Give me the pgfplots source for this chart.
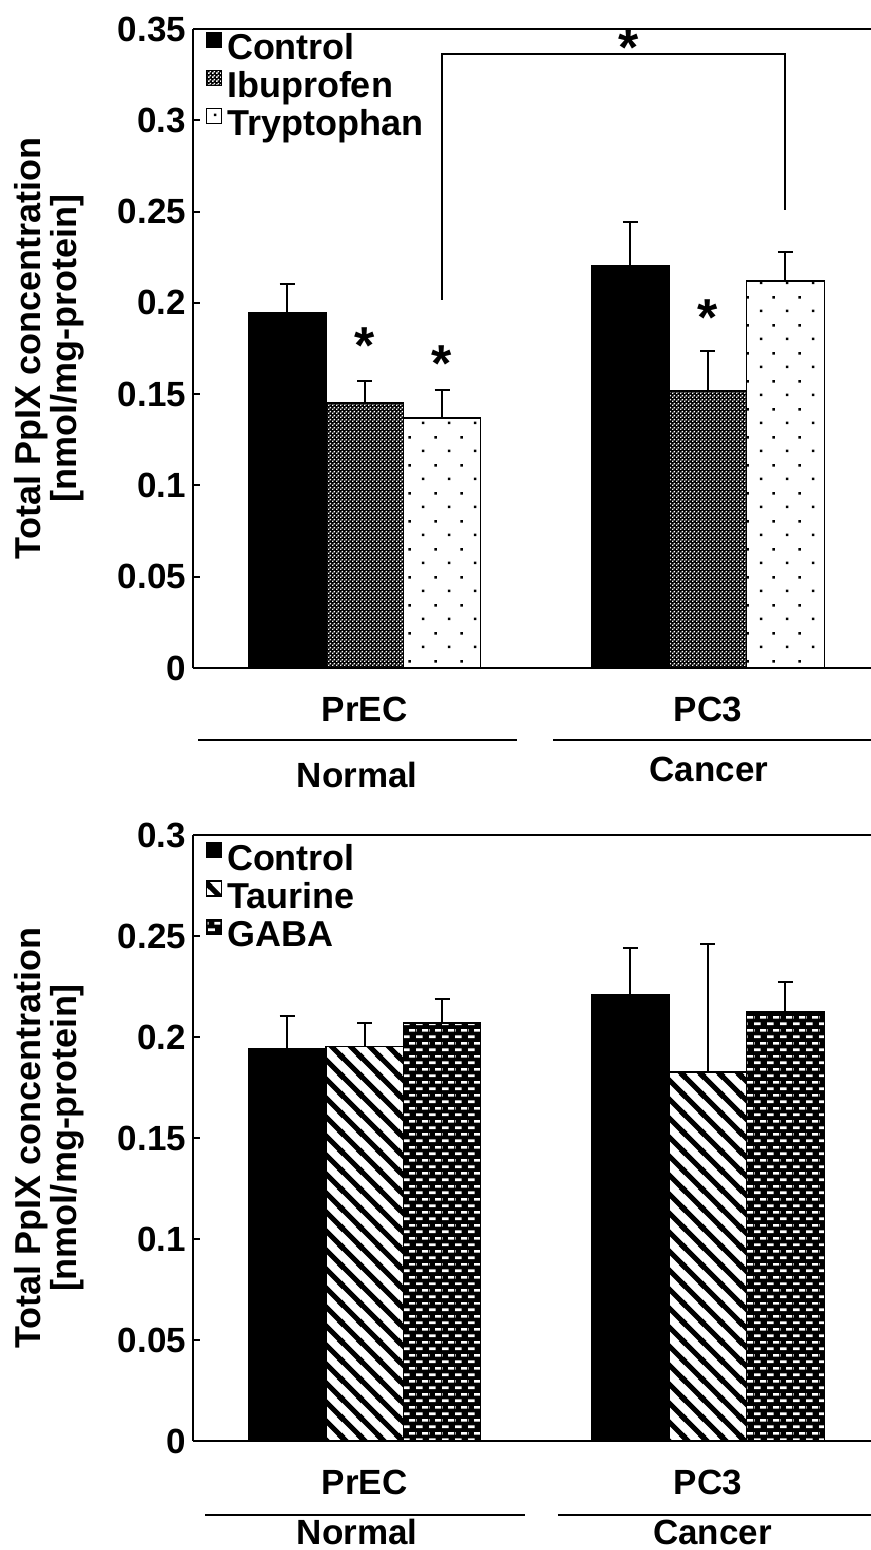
\documentclass[border=0pt]{standalone}
\usepackage{fontspec}
\setmainfont{Liberation Sans}
\usepackage{pgfplots}
\pgfplotsset{compat=1.18}
\usetikzlibrary{patterns}

% white squares (drawn over black) -> dark checker
\pgfdeclarepatternformonly{ibu}{\pgfpointorigin}{\pgfpoint{2pt}{2pt}}{\pgfpoint{2pt}{2pt}}{%
  \pgfpathrectangle{\pgfpointorigin}{\pgfpoint{0.9pt}{0.9pt}}%
  \pgfpathrectangle{\pgfpoint{1pt}{1pt}}{\pgfpoint{0.9pt}{0.9pt}}%
  \pgfusepath{fill}}
\pgfdeclarepatternformonly{trp}{\pgfpointorigin}{\pgfpoint{13pt}{14pt}}{\pgfpoint{13pt}{14pt}}{%
  \pgfpathrectangle{\pgfpoint{3pt}{3pt}}{\pgfpoint{1.3pt}{1.3pt}}%
  \pgfpathrectangle{\pgfpoint{9.5pt}{10pt}}{\pgfpoint{1.3pt}{1.3pt}}%
  \pgfusepath{fill}}
\pgfdeclarepatternformonly{taur}{\pgfpointorigin}{\pgfpoint{9.5pt}{9.5pt}}{\pgfpoint{9.5pt}{9.5pt}}{%
  \pgfsetlinewidth{2.6pt}%
  \pgfpathmoveto{\pgfpoint{-1pt}{10.5pt}}\pgfpathlineto{\pgfpoint{10.5pt}{-1pt}}%
  \pgfpathmoveto{\pgfpoint{-2pt}{2pt}}\pgfpathlineto{\pgfpoint{2pt}{-2pt}}%
  \pgfpathmoveto{\pgfpoint{7.5pt}{11.5pt}}\pgfpathlineto{\pgfpoint{11.5pt}{7.5pt}}%
  \pgfusepath{stroke}}
% white dashes (drawn over black)
\pgfdeclarepatternformonly{gaba}{\pgfpointorigin}{\pgfpoint{6.5pt}{6.7pt}}{\pgfpoint{6.5pt}{6.7pt}}{%
  \pgfpathrectangle{\pgfpoint{0.1pt}{1pt}}{\pgfpoint{3.5pt}{1.35pt}}%
  \pgfpathrectangle{\pgfpoint{3.35pt}{4.35pt}}{\pgfpoint{3.15pt}{1.35pt}}%
  \pgfpathrectangle{\pgfpoint{0pt}{4.35pt}}{\pgfpoint{0.35pt}{1.35pt}}%
  \pgfusepath{fill}}

\newcommand\F{\fontsize{17.5}{17.5}\selectfont\bfseries}
\newcommand\FL{\fontsize{18}{15.5}\selectfont\bfseries}
\newcommand\FA{\fontsize{26}{26}\selectfont\bfseries}

\pgfplotsset{
  mybase/.style={
    scale only axis, width=339pt,
    xmin=-0.5, xmax=1.475, ymin=0,
    axis lines=left, axis line style={-, line width=1pt},
    tick align=inside, major tick length=3.5pt,
    ytick style={line width=1pt, black},
    xtick={0,1}, xticklabels={PrEC,PC3}, x tick style={draw=none},
    ticklabel style={font=\F},
    /pgf/number format/assume math mode=true,
    xticklabel style={anchor=base, yshift=-23pt},
    ylabel={Total PpIX concentration\\{[}nmol/mg-protein{]}},
    ylabel style={align=center, font=\FL, at={(axis description cs:-0.212,0.5)}, anchor=center},
    ybar, bar width=0.2256, clip=false,
    error bars/y dir=plus, error bars/y explicit,
    error bars/error bar style={line width=1pt, black},
    error bars/error mark options={rotate=90, mark size=3.75pt, line width=1pt, black},
    legend image code/.code={\draw[##1, line width=0.6pt] (0pt,0.5pt) rectangle (7.5pt,8pt);},
    legend cell align=left,
    legend style={draw=none, fill=none, inner sep=0pt, outer sep=0pt,
      font=\fontsize{18}{18}\selectfont\bfseries,
      row sep=3.5pt, anchor=north west,
      nodes={inner xsep=2.6pt, inner ysep=0pt}},
  },
}

\begin{document}
\begin{tikzpicture}
\useasboundingbox (0,0) rectangle (435.5pt,-775pt);
% ---------- top panel ----------
\begin{axis}[mybase, at={(96.5pt,-334pt)}, anchor=south west, height=319.5pt,
  ymax=0.35, ytick={0,0.05,0.1,0.15,0.2,0.25,0.3,0.35},
  yticklabels={0,0.05,0.1,0.15,0.2,0.25,0.3,0.35},
  legend style={at={(axis description cs:0.0186,0.996)}}]
\addplot[fill=black, draw=black, line width=0.6pt, bar shift=-0.2256]
  coordinates {(0,0.1944) +- (0,0.0159) (1,0.2202) +- (0,0.0241)};
\addplot[fill=black, postaction={pattern=ibu, pattern color=white}, draw=black, line width=0.6pt, bar shift=0]
  coordinates {(0,0.1452) +- (0,0.0120) (1,0.1517) +- (0,0.0219)};
\addplot[fill=white, pattern=trp, pattern color=black, draw=black, line width=0.6pt, bar shift=0.2256]
  coordinates {(0,0.1369) +- (0,0.0154) (1,0.2120) +- (0,0.0159)};
\legend{Control,Ibuprofen,Tryptophan}
\draw[line width=1pt] (rel axis cs:0,1) -- (rel axis cs:1,1);
\draw[line width=1pt] (axis cs:0.2256,0.2016) -- (axis cs:0.2256,0.3361)
  -- (axis cs:1.2256,0.3361) -- (axis cs:1.2256,0.2509);
\node[font=\FA, anchor=base, yshift=-12pt] at (axis cs:0,0.1797) {*};
\node[font=\FA, anchor=base, yshift=-12pt] at (axis cs:0.2256,0.1703) {*};
\node[font=\FA, anchor=base, yshift=-12pt] at (axis cs:1,0.195) {*};
\node[font=\FA, anchor=base, yshift=-12pt] at (axis cs:0.77,0.3434) {*};
\draw[line width=1pt] (axis description cs:0.0074,-0.1127) -- (axis description cs:0.478,-0.1127);
\draw[line width=1pt] (axis description cs:0.531,-0.1127) -- (axis description cs:1.0,-0.1127);
\node[font=\F, anchor=base] at (axis description cs:0.242,-0.187) {Normal};
\node[font=\F, anchor=base] at (axis description cs:0.761,-0.178) {Cancer};
\end{axis}
% ---------- bottom panel ----------
\begin{axis}[mybase, at={(96.5pt,-720.5pt)}, anchor=south west, height=303pt,
  ymax=0.3, ytick={0,0.05,0.1,0.15,0.2,0.25,0.3},
  yticklabels={0,0.05,0.1,0.15,0.2,0.25,0.3},
  legend style={at={(axis description cs:0.0186,0.988)}}]
\addplot[fill=black, draw=black, line width=0.6pt, bar shift=-0.2256]
  coordinates {(0,0.1945) +- (0,0.0159) (1,0.2208) +- (0,0.0233)};
\addplot[fill=white, pattern=taur, pattern color=black, draw=black, line width=0.6pt, bar shift=0]
  coordinates {(0,0.1955) +- (0,0.0114) (1,0.1827) +- (0,0.0633)};
\addplot[fill=black, postaction={pattern=gaba, pattern color=white}, draw=black, line width=0.6pt, bar shift=0.2256]
  coordinates {(0,0.2069) +- (0,0.0119) (1,0.2124) +- (0,0.0148)};
\legend{Control,Taurine,GABA}
\draw[line width=1pt] (rel axis cs:0,1) -- (rel axis cs:1,1);
\draw[line width=1pt] (axis description cs:0.0177,-0.1221) -- (axis description cs:0.4897,-0.1221);
\draw[line width=1pt] (axis description cs:0.538,-0.1221) -- (axis description cs:1.0,-0.1221);
\node[font=\F, anchor=base] at (axis description cs:0.242,-0.171) {Normal};
\node[font=\F, anchor=base] at (axis description cs:0.766,-0.171) {Cancer};
\end{axis}
\end{tikzpicture}
\end{document}
